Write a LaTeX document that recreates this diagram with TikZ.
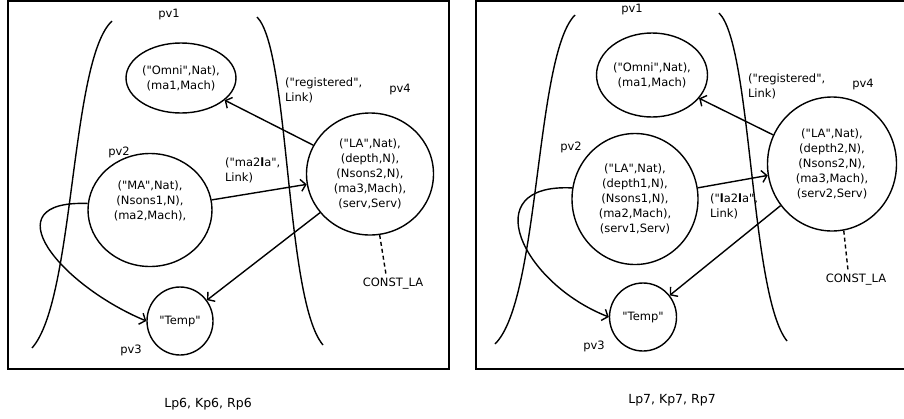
\documentclass[tikz,border=0pt]{standalone}
\usepackage{fontspec}
\newfontfamily\dejavu{DejaVu Sans}
\usepackage{tikz}
\usetikzlibrary{positioning, arrows.meta, shapes.geometric}

\begin{document}
\begin{tikzpicture}[x=1pt, y=-1pt, line width=1.4pt,
  font=\dejavu\fontsize{11.5}{15}\selectfont,
  state/.style={draw, ellipse, inner sep=0pt, align=center},
  lbl/.style={anchor=west, align=left},
  link/.style={-{Straight Barb[length=5pt,width=12pt]}},
  frame/.style={line width=1.9pt}]
\useasboundingbox (0,0) rectangle (904,418);
% Frames
\draw[frame] (8,1) rectangle (449,369);
\draw[frame] (476,1) rectangle (914,369);

% Left: Lp6
\draw (112,21) .. controls (70,60) and (75,300) .. (32,348);
\draw (257,17) .. controls (290,50) and (285,300) .. (323,345);
\node[state, minimum width=96pt, minimum height=70pt] (omniA) at (181,78) {("Omni",Nat),\\(ma1,Mach)};
\node[state, minimum width=127pt, minimum height=122pt] (laA) at (370,174) {("LA",Nat),\\(depth,N),\\(Nsons2,N),\\(ma3,Mach),\\(serv,Serv)};
\node[state, minimum width=124pt, minimum height=113pt] (maA) at (150,210) {("MA",Nat),\\(Nsons1,N),\\(ma2,Mach),\\\strut};
\node[state, minimum width=66pt, minimum height=68pt] (tempA) at (180,321) {"Temp"};
\node (pvA1) at (169,15) {pv1};
\node (pvA2) at (119,152) {pv2};
\node (pvA3) at (131,350) {pv3};
\node (pvA4) at (400,90) {pv4};
\node (constA) at (393,284) {CONST\_LA};
\node[lbl] (regA) at (281,90) {("registered",\\Link)};
\node[lbl] (linkA) at (221,170) {("ma2\textbf{l}a",\\Link)};
% Links
\draw[link] (laA) -- (omniA);
\draw[link] (maA) -- (laA);
\draw[link] (laA) -- (tempA);
\draw[link] (maA.174) .. controls (-10,200) and (60,285) .. (tempA.west);
\draw[dash pattern=on 4pt off 3pt] (laA.-81) -- ([xshift=-7pt]constA.north);
\node[font=\dejavu\fontsize{12.5}{15}\selectfont] (capA) at (208,404) {Lp6, Kp6, Rp6};

% Right: Lp7
\draw (575,15) .. controls (535,55) and (540,300) .. (495,344);
\draw (719,13) .. controls (752,45) and (750,295) .. (787,341);
\node[state, minimum width=111pt, minimum height=84pt] (omniB) at (652,75) {("Omni",Nat),\\(ma1,Mach)};
\node[state, minimum width=126pt, minimum height=131pt] (laB) at (635,199) {("LA",Nat),\\(depth1,N),\\(Nsons1,N),\\(ma2,Mach),\\(serv1,Serv)};
\node[state, minimum width=129pt, minimum height=134pt] (pvB) at (832,164) {("LA",Nat),\\(depth2,N),\\(Nsons2,N),\\(ma3,Mach),\\(serv2,Serv)};
\node[state, minimum width=67pt, minimum height=68pt] (tempB) at (643,317) {"Temp"};
\node (pvB1) at (632,10) {pv1};
\node (pvB2) at (571,147) {pv2};
\node (pvB3) at (594,346) {pv3};
\node (pvB4) at (863,85) {pv4};
\node (constB) at (856,280) {CONST\_LA};
\node[lbl] (regB) at (744,86) {("registered",\\Link)};
\node[lbl] (linkB) at (706,206) {("\textbf{l}a2\textbf{l}a",\\Link)};
% Links
\draw[link] (pvB) -- (omniB);
\draw[link] (laB) -- (pvB);
\draw[link] (pvB) -- (tempB);
\draw[link] (laB.170) .. controls (475,183) and (522,283) .. (tempB.west);
\draw[dash pattern=on 4pt off 3pt] (pvB.-80) -- ([xshift=-8pt]constB.north);
\node[font=\dejavu\fontsize{12.5}{15}\selectfont] (capB) at (672,400) {Lp7, Kp7, Rp7};
\end{tikzpicture}
\end{document}
